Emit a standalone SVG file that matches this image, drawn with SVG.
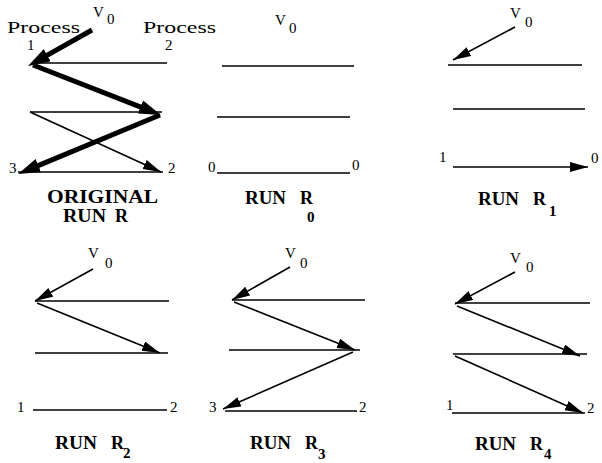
<svg xmlns="http://www.w3.org/2000/svg" width="602" height="463" viewBox="0 0 602 463">
<defs>
<style>
.bg{fill:#fff}
.ln{stroke:#000;stroke-width:1.6;fill:none}
.msg{stroke:#000;stroke-width:1.6;fill:none;marker-end:url(#ah)}
.thick{stroke:#000;stroke-width:5;fill:none;marker-end:url(#ahb)}
.t{font-family:"Liberation Serif","DejaVu Serif",serif;fill:#000}
.proc{font-size:17px}
.v{font-size:15px}
.n{font-size:15px}
.lab{font-size:18px;font-weight:bold}
.sub{font-size:15px;font-weight:bold}
</style>
<marker id="ah" markerUnits="userSpaceOnUse" markerWidth="20" markerHeight="12" refX="18" refY="5" orient="auto">
<path d="M0,0 L18,5 L0,10 z" fill="#000"/>
</marker>
<marker id="ahb" markerUnits="userSpaceOnUse" markerWidth="24" markerHeight="16" refX="10" refY="7" orient="auto">
<path d="M0,0 L22,7 L0,14 z" fill="#000"/>
</marker>
</defs>
<rect class="bg" x="0" y="0" width="602" height="463"/>

<g id="original-run-r">
<g class="processes">
<line class="ln" x1="35" y1="63" x2="167" y2="63"/>
<line class="ln" x1="30" y1="112" x2="162" y2="112"/>
<line class="ln" x1="18" y1="172" x2="163" y2="172"/>
</g>
<g class="connectors">
<line class="msg" x1="30" y1="112" x2="161" y2="172"/>
<line class="thick" x1="92" y1="30" x2="38.5" y2="60.1"/>
<line class="thick" x1="33" y1="65" x2="149.8" y2="110.6"/>
<line class="thick" x1="160" y1="115" x2="29.1" y2="169.4"/>
</g>
<text class="t proc" x="7" y="33" textLength="73" lengthAdjust="spacingAndGlyphs">Process</text>
<text class="t proc" x="143" y="33" textLength="73" lengthAdjust="spacingAndGlyphs">Process</text>
<text class="t v" x="93" y="17">V</text>
<text class="t v" x="107" y="24">0</text>
<text class="t n" x="27" y="50">1</text>
<text class="t n" x="165" y="50">2</text>
<text class="t n" x="9" y="173">3</text>
<text class="t n" x="168" y="173">2</text>
<text class="t lab" x="47" y="203" textLength="111" lengthAdjust="spacingAndGlyphs">ORIGINAL</text>
<text class="t lab" x="63" y="222"><tspan textLength="43" lengthAdjust="spacingAndGlyphs">RUN</tspan> <tspan x="115">R</tspan></text>
</g>

<g id="run-r0">
<g class="processes">
<line class="ln" x1="222" y1="66" x2="354" y2="66"/>
<line class="ln" x1="217" y1="117" x2="350" y2="117"/>
<line class="ln" x1="217" y1="173" x2="350" y2="173"/>
</g>
<text class="t v" x="275" y="25">V</text>
<text class="t v" x="289" y="33">0</text>
<text class="t n" x="208" y="172">0</text>
<text class="t n" x="352" y="170">0</text>
<text class="t lab" x="245" y="204"><tspan textLength="41" lengthAdjust="spacingAndGlyphs">RUN</tspan> <tspan x="300">R</tspan></text>
<text class="t sub" x="307" y="222">0</text>
</g>

<g id="run-r1">
<g class="processes">
<line class="ln" x1="448" y1="65" x2="582" y2="65"/>
<line class="ln" x1="453" y1="109" x2="585" y2="109"/>
</g>
<g class="connectors">
<line class="msg" x1="515" y1="27" x2="453" y2="60"/>
<line class="msg" x1="453" y1="167" x2="588" y2="167"/>
</g>
<text class="t v" x="510" y="18">V</text>
<text class="t v" x="525" y="27">0</text>
<text class="t n" x="439" y="162">1</text>
<text class="t n" x="591" y="163">0</text>
<text class="t lab" x="478" y="205"><tspan textLength="41" lengthAdjust="spacingAndGlyphs">RUN</tspan> <tspan x="533">R</tspan></text>
<text class="t sub" x="549" y="216">1</text>
</g>

<g id="run-r2">
<g class="processes">
<line class="ln" x1="35" y1="301" x2="169" y2="301"/>
<line class="ln" x1="35" y1="353" x2="168" y2="353"/>
<line class="ln" x1="33" y1="410" x2="167" y2="410"/>
</g>
<g class="connectors">
<line class="msg" x1="93" y1="269" x2="35" y2="301"/>
<line class="msg" x1="37" y1="303" x2="160" y2="353"/>
</g>
<text class="t v" x="88" y="258">V</text>
<text class="t v" x="105" y="268">0</text>
<text class="t n" x="17" y="412">1</text>
<text class="t n" x="170" y="412">2</text>
<text class="t lab" x="55" y="449"><tspan textLength="42" lengthAdjust="spacingAndGlyphs">RUN</tspan> <tspan x="111">R</tspan></text>
<text class="t sub" x="123" y="458">2</text>
</g>

<g id="run-r3">
<g class="processes">
<line class="ln" x1="232" y1="300" x2="365" y2="300"/>
<line class="ln" x1="229" y1="350" x2="360" y2="350"/>
<line class="ln" x1="225" y1="411" x2="357" y2="411"/>
</g>
<g class="connectors">
<line class="msg" x1="290" y1="267" x2="232" y2="300"/>
<line class="msg" x1="234" y1="302" x2="355" y2="350"/>
<line class="msg" x1="353" y1="352" x2="223" y2="409"/>
</g>
<text class="t v" x="285" y="258">V</text>
<text class="t v" x="300" y="268">0</text>
<text class="t n" x="209" y="412">3</text>
<text class="t n" x="359" y="412">2</text>
<text class="t lab" x="250" y="449"><tspan textLength="41" lengthAdjust="spacingAndGlyphs">RUN</tspan> <tspan x="305">R</tspan></text>
<text class="t sub" x="318" y="459">3</text>
</g>

<g id="run-r4">
<g class="processes">
<line class="ln" x1="455" y1="303" x2="590" y2="303"/>
<line class="ln" x1="453" y1="354" x2="587" y2="354"/>
<line class="ln" x1="452" y1="413" x2="585" y2="413"/>
</g>
<g class="connectors">
<line class="msg" x1="515" y1="272" x2="455" y2="304"/>
<line class="msg" x1="457" y1="306" x2="580" y2="356"/>
<line class="msg" x1="455" y1="356" x2="583" y2="413"/>
</g>
<text class="t v" x="510" y="263">V</text>
<text class="t v" x="526" y="272">0</text>
<text class="t n" x="446" y="410">1</text>
<text class="t n" x="587" y="413">2</text>
<text class="t lab" x="475" y="450"><tspan textLength="41" lengthAdjust="spacingAndGlyphs">RUN</tspan> <tspan x="530">R</tspan></text>
<text class="t sub" x="544" y="459">4</text>
</g>
</svg>
